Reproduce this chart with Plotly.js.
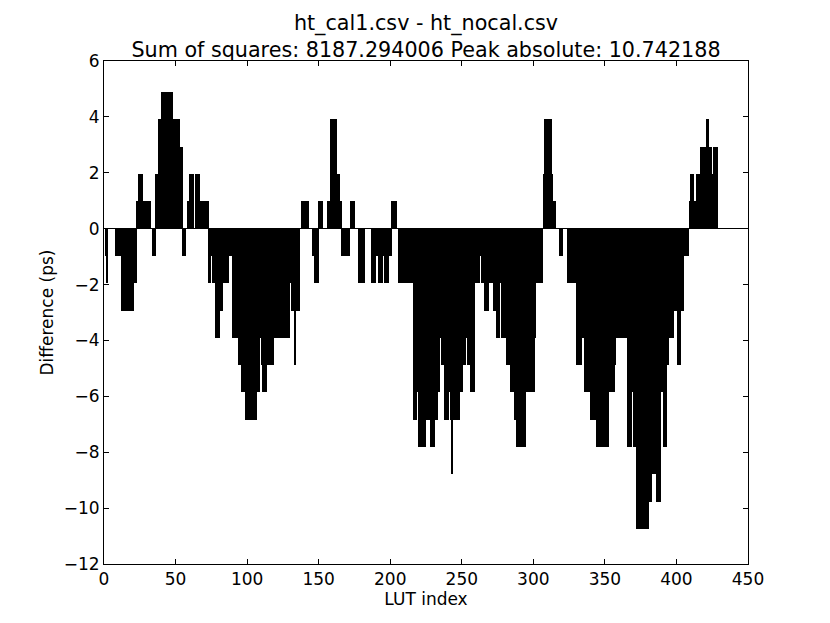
<!DOCTYPE html>
<html>
<head>
<meta charset="utf-8">
<script src="https://cdn.plot.ly/plotly-3.0.1.min.js"></script>
<style>
  body { margin: 0; background: #fff; }
  #lut-diff { width: 830px; height: 623px; }
</style>
</head>
<body>
<div id="lut-diff"></div>
<script>

// difference per LUT index (ps), split in four runs
var diffA = [
    0, -0.98, -1.95, 0, 0, 0, 0, 0, -0.98, -0.98,
    -0.98, -0.98, -2.93, -2.93, -2.93, -2.93, -2.93, -2.93, -2.93, -2.93,
    -2.93, -1.95, -1.95, 0.98, 1.95, 1.95, 1.95, 0.98, 0.98, 0,
    0.98, 0.98, 0.98, 0, -0.98, -0.98, 1.95, 1.95, 3.91, 3.91,
    4.88, 4.88, 4.88, 4.88, 4.88, 4.88, 4.88, 4.88, 3.91, 3.91,
    3.91, 3.91, 3.91, 2.93, 2.93, -0.98, -0.98, 0, 0.98, 0.98,
    1.95, 1.95, 1.95, 0, 1.95, 1.95, 1.95, 0.98, 0.98, 0.98,
    0.98, 0.98, 0.98, -1.95, -1.95, -0.98, -1.95, -1.95, -3.91, -3.91,
    -3.91, -2.93, -2.93, -1.95, -1.95, -1.95, -1.95, -0.98, -0.98, -0.98,
    -3.91, -3.91, -3.91, -3.91, -4.88, -4.88, -5.86, -5.86, -5.86, -6.84,
    -6.84, -6.84, -6.84, -6.84, -6.84, -6.84, -6.84, -5.86
];

var diffB = [
    -5.86, -3.91,
    -4.88, -5.86, -5.86, -5.86, -4.88, -4.88, -4.88, -4.88, -4.88, -3.91,
    -3.91, -3.91, -3.91, -3.91, -3.91, -3.91, -3.91, -3.91, -3.91, -3.91,
    -1.95, -2.93, -2.93, -4.88, -2.93, -2.93, -2.93, 0, 0.98, 0.98,
    0.98, 0.98, 0.98, 0, 0, 0, -0.98, -1.95, -1.95, -1.95,
    0.98, 0.98, 0.98, 0, 0, 0, 0.98, 0.98, 3.91, 3.91,
    3.91, 3.91, 3.91, 1.95, 1.95, 0.98, -0.98, -0.98, -0.98, -0.98,
    -0.98, -0.98, 0.98, 0.98, 0.98, 0, 0, 0, -1.95, -1.95,
    -1.95, -1.95, 0, 0, 0, 0, 0, -1.95, -1.95, -1.95,
    -0.98, -0.98, -1.95, -1.95, -1.95, -0.98, -1.95, -1.95, -1.95, -0.98,
    -0.98, 0.98, 0.98, 0.98, 0.98, 0, -1.95, -1.95, -1.95, -1.95,
    -1.95, -1.95, -1.95, -1.95, -1.95, -1.95
];

var diffC = [
    -6.84, -6.84, -6.84, -5.86,
    -7.81, -7.81, -7.81, -7.81, -7.81, -6.84, -6.84, -6.84, -7.81, -7.81,
    -7.81, -6.84, -6.84, -5.86, -5.86, -3.91, -4.88, -4.88, -6.84, -6.84,
    -6.84, -5.86, -6.84, -8.79, -6.84, -6.84, -6.84, -6.84, -6.84, -5.86,
    -5.86, -4.88, -4.88, -3.91, -4.88, -4.88, -5.86, -5.86, -5.86, -1.95,
    -1.95, -1.95, -1.95, -0.98, -1.95, -1.95, -2.93, -2.93, -2.93, -1.95,
    -1.95, -1.95, -2.93, -2.93, -3.91, -3.91, -3.91, -1.95, -3.91, -3.91,
    -3.91, -4.88, -4.88, -4.88, -5.86, -5.86, -5.86, -6.84, -7.81, -7.81,
    -7.81, -7.81, -7.81, -7.81, -7.81, -5.86, -5.86, -5.86, -5.86, -5.86,
    -5.86, -3.91, -1.95, -1.95, -1.95, -1.95, -1.95, 1.95, 3.91, 3.91,
    3.91, 3.91, 3.91, 1.95, 0.98, 0.98, 0, 0, -0.98, -0.98,
    -0.98, 0, 0, 0
];

var diffD = [
    -1.95, -1.95, -1.95, -1.95, -1.95, -1.95,
    -4.88, -4.88, -4.88, -4.88, -3.91, -3.91, -5.86, -5.86, -5.86, -5.86,
    -6.84, -6.84, -6.84, -6.84, -7.81, -7.81, -7.81, -7.81, -7.81, -6.84,
    -7.81, -7.81, -7.81, -5.86, -5.86, -5.86, -5.86, -4.88, -3.91, -3.91,
    -3.91, -3.91, -3.91, -3.91, -3.91, -3.91, -7.81, -7.81, -7.81, -5.86,
    -7.81, -7.81, -10.74, -10.74, -10.74, -10.74, -10.74, -10.74, -10.74, -10.74,
    -10.74, -9.77, -9.77, -8.79, -8.79, -8.79, -9.77, -9.77, -9.77, -5.86,
    -5.86, -7.81, -7.81, -4.88, -4.88, -3.91, -3.91, -3.91, -2.93, -2.93,
    -2.93, -4.88, -4.88, -2.93, -2.93, -0.98, -0.98, -0.98, -0.98, 0.98,
    1.95, 1.95, 0.98, 0.98, 1.95, 1.95, 1.95, 2.93, 2.93, 2.93,
    2.93, 3.91, 3.91, 2.93, 2.93, 1.95, 2.93, 2.93, 2.93
];

var diff = diffA.concat(diffB, diffC, diffD);
var lutIndex = diff.map(function (d, i) { return i; });

var font = 'DejaVu Sans, sans-serif';

var data = [
    {
        x: lutIndex,
        y: diff,
        type: 'bar',
        width: 0.8,
        offset: 0,
        marker: { color: '#000000', line: { width: 0 } },
        hoverinfo: 'x+y'
    }
];

var axisStyle = {
    showline: true,
    linecolor: '#000000',
    linewidth: 1,
    mirror: 'ticks',
    ticks: 'inside',
    ticklen: 5,
    tickcolor: '#000000',
    showgrid: false,
    tickfont: { family: font, size: 17, color: '#000000' }
};

var layout = {
    width: 830,
    height: 623,
    margin: { l: 104, r: 82, t: 61, b: 59 },
    paper_bgcolor: '#ffffff',
    plot_bgcolor: '#ffffff',
    showlegend: false,
    bargap: 0,
    title: {
        text: 'ht_cal1.csv - ht_nocal.csv<br>Sum of squares: 8187.294006 Peak absolute: 10.742188',
        font: { family: font, size: 20.7, color: '#000000' },
        x: 0.5, xref: 'paper', xanchor: 'center',
        y: 0.952, yref: 'container', yanchor: 'top'
    },
    xaxis: Object.assign({}, axisStyle, {
        range: [0, 450],
        dtick: 50,
        tick0: 0,
        zeroline: false,
        title: { text: 'LUT index', font: { family: font, size: 17, color: '#000000' }, standoff: 1 }
    }),
    yaxis: Object.assign({}, axisStyle, {
        range: [-12, 6],
        dtick: 2,
        tick0: 0,
        zeroline: true,
        zerolinecolor: '#000000',
        zerolinewidth: 1,
        title: { text: 'Difference (ps)', font: { family: font, size: 17, color: '#000000' }, standoff: 5 }
    })
};

Plotly.newPlot('lut-diff', data, layout, { displayModeBar: false });
</script>
</body>
</html>
